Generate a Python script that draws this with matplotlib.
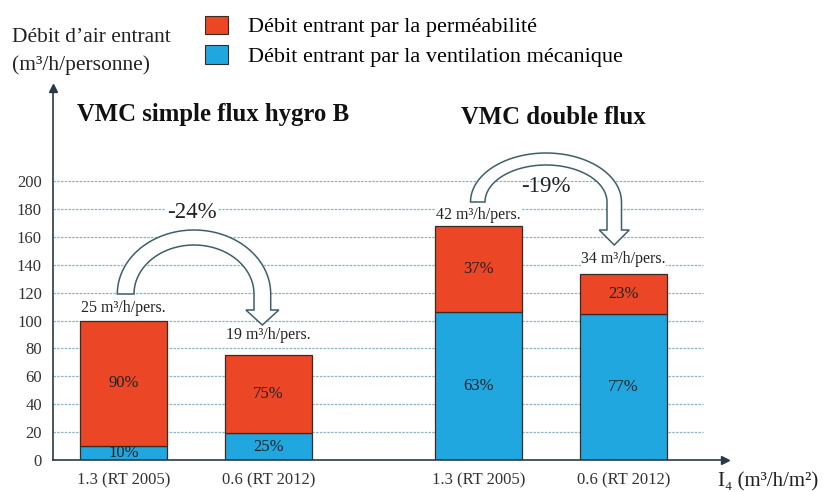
import matplotlib
matplotlib.use("Agg")
import matplotlib.pyplot as plt
import numpy as np
from matplotlib.patches import Polygon, Patch

plt.rcParams['font.family'] = ['Liberation Serif', 'DejaVu Serif']

categories = ['1.3 (RT 2005)', '0.6 (RT 2012)', '1.3 (RT 2005)', '0.6 (RT 2012)']
ventilation = [10, 19, 106, 105]
permeabilite = [90, 56, 62, 28]
vent_pct = ['10%', '25%', '63%', '77%']
perm_pct = ['90%', '75%', '37%', '23%']
totals_txt = ['25 m³/h/pers.', '19 m³/h/pers.', '42 m³/h/pers.', '34 m³/h/pers.']
yticks = [0, 20, 40, 60, 80, 100, 120, 140, 160, 180, 200]

red = '#EB4626'
blue = '#21A7DF'
edge = '#3a2a22'
W, H = 827, 492

fig = plt.figure(figsize=(W / 100, H / 100), dpi=100)
ax = fig.add_axes([53 / W, (H - 460) / H, (725 - 53) / W, (460 - 88) / H])

xpos = np.array([0, 1, 2.45, 3.45])
ax.set_xlim(-0.487, 4.151)
ax.set_ylim(0, 266.7)

# grid lines (stop short of the arrow)
ax.hlines(yticks[1:], -0.487, 4.0, colors='#8FB3C6', linestyles=(0, (2, 1)),
          lw=0.9, zorder=0)

ax.bar(xpos, ventilation, 0.6, color=blue, edgecolor=edge, lw=0.9, zorder=2)
ax.bar(xpos, permeabilite, 0.6, bottom=ventilation, color=red, edgecolor=edge,
       lw=0.9, zorder=2)

for i in range(len(xpos)):
    ax.text(xpos[i], ventilation[i] / 2, vent_pct[i], ha='center', va='center',
            fontsize=12, color='#222', zorder=3)
    ax.text(xpos[i], ventilation[i] + permeabilite[i] / 2, perm_pct[i],
            ha='center', va='center', fontsize=12, color='#222', zorder=3)

label_dy = [9, 15, 7.5, 11]
for i in range(len(xpos)):
    ax.annotate(totals_txt[i], (xpos[i], ventilation[i] + permeabilite[i]),
                xytext=(0, label_dy[i]), textcoords='offset points',
                ha='center', va='center', fontsize=11.5, color='#222', zorder=6,
                bbox=dict(fc='white', ec='none', pad=0.5))

for s in ['top', 'right']:
    ax.spines[s].set_visible(False)
for s in ['left', 'bottom']:
    ax.spines[s].set_color('#2b3a48')
    ax.spines[s].set_linewidth(1.2)
ax.plot(1, 0, '>', color='#2b3a48', ms=6, transform=ax.transAxes, clip_on=False)
ax.plot(0, 1, '^', color='#2b3a48', ms=6, transform=ax.transAxes, clip_on=False)

ax.set_yticks(yticks)
ax.set_xticks(xpos)
ax.set_xticklabels(categories)
ax.tick_params(axis='y', length=0, pad=8, labelsize=12, labelcolor='#333')
ax.tick_params(axis='x', length=0, pad=9, labelsize=12, labelcolor='#333')

# overlay in pixel coordinates for curved arrows and free text
ov = fig.add_axes([0, 0, 1, 1], zorder=5)
ov.set_xlim(0, W)
ov.set_ylim(H, 0)
ov.axis('off')
ov.patch.set_alpha(0)


def curved_arrow(cx, cy, rxo, ryo, rxi, ryi, base_y, head_half, tip_y):
    t = np.linspace(np.pi, 0, 60)
    outer = np.c_[cx + rxo * np.cos(t), cy - ryo * np.sin(t)]
    inner = np.c_[cx + rxi * np.cos(t[::-1]), cy - ryi * np.sin(t[::-1])]
    mid = cx + (rxo + rxi) / 2
    pts = list(outer)
    pts += [(cx + rxo, base_y), (mid + head_half, base_y), (mid, tip_y),
            (mid - head_half, base_y), (cx + rxi, base_y)]
    pts += list(inner)
    ov.add_patch(Polygon(pts, closed=True, fc='white', ec='#3f5f68', lw=1.1))


curved_arrow(194, 294, 76.7, 64, 60, 49, 310, 16.5, 325)
curved_arrow(546, 202, 75.5, 49, 61, 37, 230, 15, 245)

ov.text(192, 213, '-24%', ha='center', va='center', fontsize=16.5, color='#222',
        bbox=dict(fc='white', ec='none', pad=1))
ov.text(546, 186, '-19%', ha='center', va='center', fontsize=16.5, color='#222')

ov.text(213, 115, 'VMC simple flux hygro B', ha='center', va='center',
        fontsize=17.8, fontweight='bold', color='#111')
ov.text(553, 118, 'VMC double flux', ha='center', va='center',
        fontsize=17.8, fontweight='bold', color='#111')

ov.text(12, 38, 'Débit d’air entrant', ha='left', va='center', fontsize=15.5,
        color='#222')
ov.text(12, 65, '(m³/h/personne)', ha='left', va='center', fontsize=15.5,
        color='#222')
ov.text(718, 482, 'I₄ (m³/h/m²)', ha='left', va='center', fontsize=15,
        color='#222')

handles = [Patch(fc=red, ec=edge, lw=0.8), Patch(fc=blue, ec=edge, lw=0.8)]
fig.legend(handles, ['Débit entrant par la perméabilité',
                     'Débit entrant par la ventilation mécanique'],
           loc='upper left', bbox_to_anchor=(189 / W, 1 - 0 / H), frameon=False,
           fontsize=16, handlelength=1.04, handleheight=0.9,
           handletextpad=0.9, labelspacing=0.35, borderpad=0.2)

fig.savefig('out.png', dpi=100)
